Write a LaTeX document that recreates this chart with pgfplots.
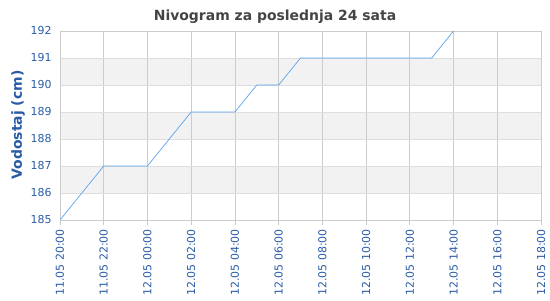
\documentclass[border=0pt]{standalone}
\usepackage{pgfplots}
\pgfplotsset{compat=1.18}
\usepackage{fontspec}
\setmainfont{DejaVu Sans}
\definecolor{lblblue}{HTML}{2A5CA6}
\definecolor{titlegray}{HTML}{444444}
\definecolor{linecol}{HTML}{5BA4EE}
\definecolor{band}{HTML}{F2F2F2}
\definecolor{gridv}{HTML}{CCCCCC}
\definecolor{gridh}{HTML}{DDDDDD}
\begin{document}
\begin{tikzpicture}[x=1bp,y=1bp]
\useasboundingbox (0,0) rectangle (550,300);
% alternating background bands (186-187, 188-189, 190-191); 27bp per cm
\fill[band] (60,107) rectangle (541,134);
\fill[band] (60,161) rectangle (541,188);
\fill[band] (60,215) rectangle (541,242);
\node[font=\fontsize{14}{16}\selectfont\bfseries, text=titlegray] at (275,283) {Nivogram za poslednja 24 sata};
\node[font=\fontsize{14}{16}\selectfont\bfseries, text=lblblue, rotate=90] at (18,175) {Vodostaj (cm)};
\begin{axis}[
  at={(60bp,80bp)}, anchor=south west,
  scale only axis, width=481bp, height=189bp,
  xmin=0, xmax=22, ymin=185, ymax=192,
  xtick={0,2,...,22},
  xtick pos=bottom,
  xticklabels={11.05 20:00,11.05 22:00,12.05 00:00,12.05 02:00,12.05 04:00,12.05 06:00,12.05 08:00,12.05 10:00,12.05 12:00,12.05 14:00,12.05 16:00,12.05 18:00},
  xticklabel style={rotate=90, anchor=east, font=\fontsize{11}{13}\selectfont, text=lblblue, inner sep=4bp},
  ytick={185,...,192},
  yticklabel style={font=\fontsize{11}{13}\selectfont, text=lblblue},
  /pgf/number format/assume math mode=true,
  /pgf/number format/1000 sep={},
  axis line style={draw=gridv},
  xmajorgrids, ymajorgrids,
  x grid style={gridv, line width=0.8bp},
  y grid style={gridh, line width=0.8bp},
  major tick length=5bp,
  xtick style={draw=gridv, line width=0.8bp},
  ytick style={draw=none},
  tick align=outside,
  clip=true,
]
\addplot[linecol, line width=0.7bp, mark=none] coordinates {
(0,185) (2,187) (4,187) (6,189) (8,189) (9,190) (10,190) (11,191) (17,191) (18,192)
};
\end{axis}
\end{tikzpicture}
\end{document}
